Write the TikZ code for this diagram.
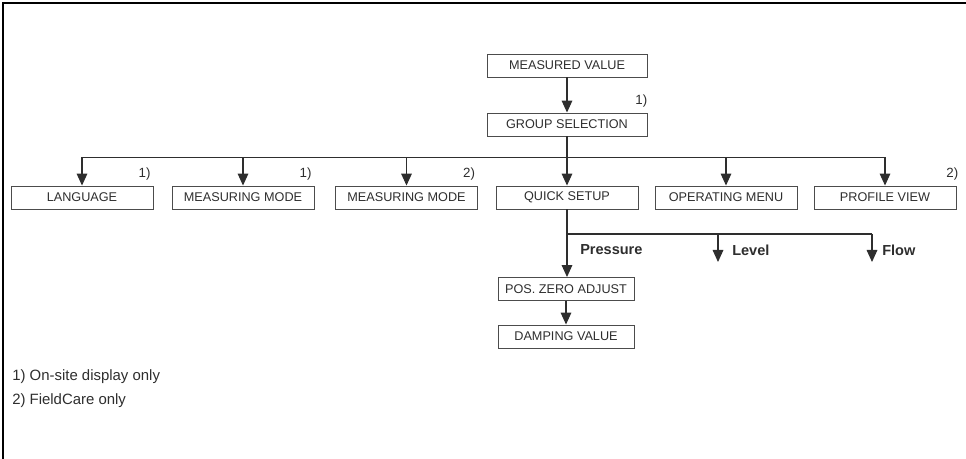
\documentclass[tikz,border=0pt]{standalone}
\usepackage{fontspec}
\setmainfont{Liberation Sans}
\usetikzlibrary{positioning, arrows.meta}
\definecolor{ink}{gray}{0.18}
\definecolor{frame}{gray}{0.3}

\begin{document}
\begin{tikzpicture}[
      x=0.75pt, y=-0.75pt,
      box/.style={draw=frame, line width=0.7pt, minimum width=106.5pt,
          minimum height=17.25pt, inner sep=0pt, text=ink,
          font=\fontsize{9.5}{11}\selectfont},
      small/.style={box, minimum width=102pt},
      fnote/.style={inner sep=0pt, text=ink, font=\fontsize{10}{12}\selectfont},
      branch/.style={inner sep=0pt, anchor=west, text=ink,
          font=\fontsize{10.9}{13}\selectfont\bfseries},
      conn/.style={draw=ink, line width=0.8pt},
      arr/.style={conn, -{Triangle[width=8pt, length=9pt]}},
    ]
    \useasboundingbox (0,0) rectangle (966,459);
    % frame (left and top only)
    \draw[line width=1.5pt] (2.5,459) -- (2.5,3) -- (966,3);

    % top of the menu
    \node[box, minimum width=120pt] (mv) at (567, 65.5) {MEASURED VALUE};
    \node[box, minimum width=120pt] (gs) at (567, 124.5) {GROUP SELECTION};
    \draw[arr] (mv) -- (gs);
    \node[fnote, anchor=south east] at ([yshift=4pt]gs.north east) {1)};

    % group row
    \foreach \n/\x/\t in {lang/82/LANGUAGE, mma/243/MEASURING MODE,
        mmb/406.5/MEASURING MODE, qs/567/QUICK SETUP,
        om/726/OPERATING MENU, pv/885/PROFILE VIEW} {
        \node[box] (\n) at (\x, 197.5) {\t};
      }
    \coordinate (bus) at (567, 157.5);
    \draw[conn] (gs) -- (bus);
    \foreach \n in {lang, mma, mmb, qs, om, pv} {
        \draw[arr] (bus) -| (\n.north);
      }

    % footnote marks
    \foreach \n/\m in {lang/1, mma/1, mmb/2} {
        \node[fnote, anchor=south east] at ([xshift=-2pt, yshift=4pt]\n.north east) {\m)};
      }
    \node[fnote, anchor=south east] at ([xshift=1.5pt, yshift=4pt]pv.north east) {2)};

    % quick setup branches
    \coordinate (split) at (567, 234);
    \coordinate (lvl) at (718, 234);
    \coordinate (lvlend) at (718, 262);
    \coordinate (flw) at (872, 234);
    \coordinate (flwend) at (872, 262);
    \node[small] (pos) at (566, 289) {POS. ZERO ADJUST};
    \node[small] (damp) at (566, 336.5) {DAMPING VALUE};
    \draw[conn] (qs) -- (split) -- (flw);
    \draw[arr] (split) -- (split |- pos.north);
    \draw[arr] (pos) -- (damp);
    \draw[arr] (lvl) -- (lvlend);
    \draw[arr] (flw) -- (flwend);
    \node[branch] (pr) at (580, 250) {Pressure};
    \node[branch] (lv) at (732, 250) {Level};
    \node[branch] (fl) at (882, 250) {Flow};

    % legend
    \node[fnote, anchor=west, font=\fontsize{11.2}{13}\selectfont] (n1) at (12, 377) {1) On-site display only};
    \node[fnote, anchor=west, font=\fontsize{11.2}{13}\selectfont] (n2) at (12, 401) {2) FieldCare only};
  \end{tikzpicture}
\end{document}
